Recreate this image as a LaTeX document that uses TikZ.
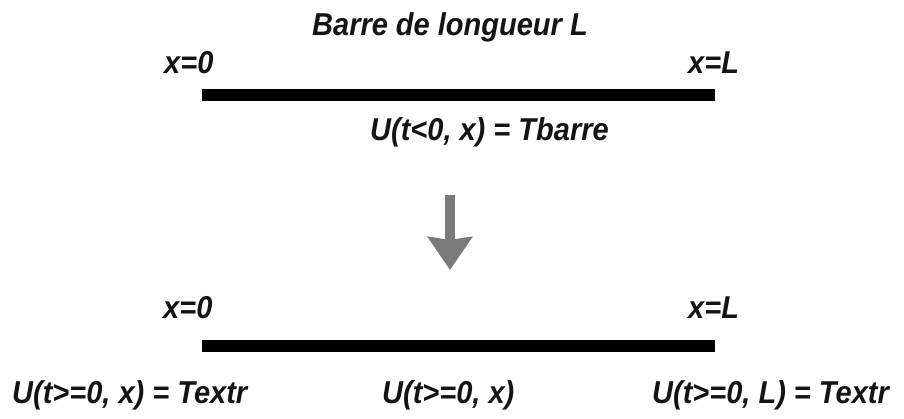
\documentclass[tikz,border=0pt]{standalone}
\usepackage{fontspec}
\setmainfont{Liberation Sans}
\usetikzlibrary{arrows.meta}
\newcommand{\tallt}[1]{\scalebox{1}[1.09]{#1}}
\tikzset{
  lbl/.style={anchor=base west, inner sep=0pt, font=\fontsize{29}{32}\selectfont\bfseries\itshape, text=black!92},
  bar/.style={line width=12pt, black},
  bigarrow/.style={line width=10pt, color=black!52, -{Stealth[width=44pt,length=33pt,inset=3pt]}}
}
\begin{document}
\begin{tikzpicture}[x=1pt,y=-1pt]
\useasboundingbox (0,0) rectangle (904,418);
% top
\node[lbl] (title) at (312,35) {\tallt{Barre de longueur L}};
\node[lbl] (x0a) at (164,73) {\tallt{x=0}};
\node[lbl] (xLa) at (688,73) {\tallt{x=L}};
\coordinate (b1s) at (202,95);
\coordinate (b1e) at (715,95);
\draw[bar] (b1s) -- (b1e);
\node[lbl] (init) at (370,140) {\tallt{U(t<0, x) = Tbarre}};
% arrow
\coordinate (as) at (450,195);
\coordinate (ae) at (450,270);
\draw[bigarrow] (as) -- (ae);
% bottom
\node[lbl] (x0b) at (163,318) {\tallt{x=0}};
\node[lbl] (xLb) at (688,318) {\tallt{x=L}};
\coordinate (b2s) at (202,346);
\coordinate (b2e) at (715,346);
\draw[bar] (b2s) -- (b2e);
\node[lbl] (left) at (12,403) {\tallt{U(t>=0, x) = Textr}};
\node[lbl] (mid) at (382,403) {\tallt{U(t>=0, x)}};
\node[lbl] (right) at (652,403) {\tallt{U(t>=0, L) = Textr}};
\end{tikzpicture}
\end{document}
